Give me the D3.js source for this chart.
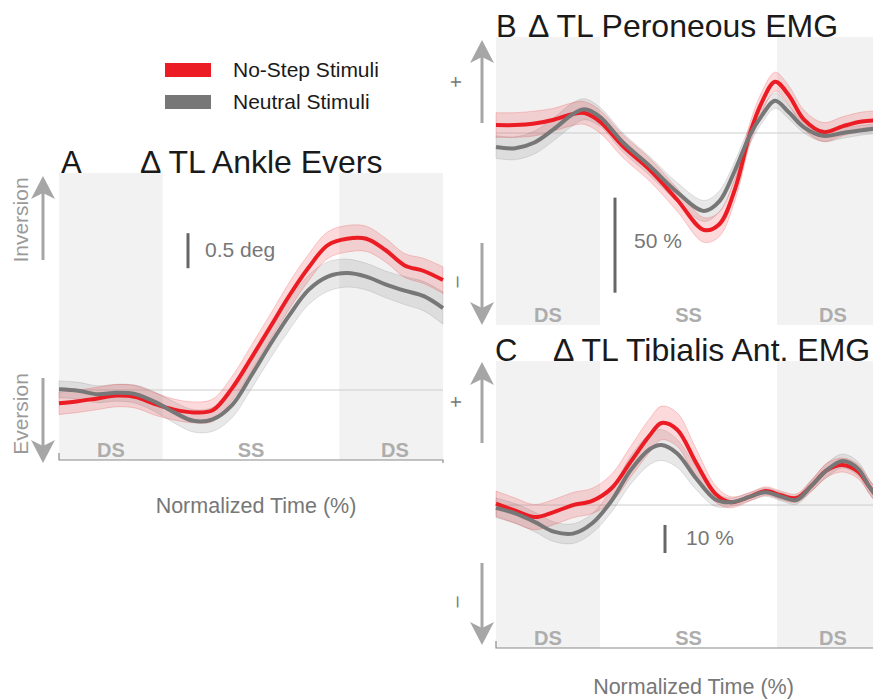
<!DOCTYPE html>
<html>
<head>
<meta charset="utf-8">
<script src="https://cdn.jsdelivr.net/npm/d3@7"></script>
<style>
  body { margin: 0; background: #fff; }
  text { font-family: "Liberation Sans", Arial, sans-serif; }
</style>
</head>
<body>
<div id="fig"></div>
<script>
// ---- data ----
// A: ankle eversion, degrees
const timeA = [0, 5, 10, 15, 20, 25, 30, 35, 40, 45, 50, 55, 60, 65, 70, 75, 80, 85, 90, 95, 100];
const noStepA = [-0.19, -0.16, -0.12, -0.08, -0.10, -0.20, -0.28, -0.32, -0.29, 0.02, 0.45, 0.90, 1.35, 1.75, 2.07, 2.16, 2.16, 2.00, 1.78, 1.70, 1.57];
const noStepSeA = [0.16, 0.16, 0.16, 0.16, 0.16, 0.16, 0.15, 0.15, 0.16, 0.17, 0.18, 0.18, 0.19, 0.19, 0.19, 0.19, 0.18, 0.17, 0.17, 0.18, 0.19];
const neutralA = [0.01, -0.01, -0.06, -0.04, -0.06, -0.17, -0.32, -0.44, -0.42, -0.22, 0.20, 0.65, 1.07, 1.43, 1.62, 1.67, 1.62, 1.51, 1.42, 1.34, 1.17];
const neutralSeA = [0.12, 0.12, 0.12, 0.12, 0.13, 0.14, 0.15, 0.16, 0.17, 0.18, 0.19, 0.2, 0.21, 0.21, 0.21, 0.2, 0.19, 0.19, 0.2, 0.21, 0.23];

// B: peroneous EMG, %
const timeB = [0, 5, 10, 15, 20, 23, 27, 33, 40, 47, 54, 58, 62, 66, 69, 72.5, 76, 80, 85, 90, 95, 100];
const noStepB = [4.2, 4.2, 5, 7, 10, 10.5, 6, -7, -19.5, -35, -51, -48, -30, 0, 16, 27, 20, 7, 0.5, 3.5, 6, 6.8];
const noStepSeB = [6.5, 6.5, 6.5, 6, 6, 6, 6, 6, 6, 6, 6.5, 6.5, 6, 5.5, 5.5, 5, 5, 5, 5, 5, 5, 5];
const neutralB = [-7.4, -8, -5, 2, 10, 12.5, 8.5, -5, -17.5, -31, -41, -36, -20, -1, 9, 17, 11, 3, -1.5, 0, 1.5, 2.6];
const neutralSeB = [6, 6, 6, 6, 6, 5.5, 5, 5, 5, 5, 5.5, 5.5, 5, 4.5, 4, 4, 3.5, 3, 3, 2.8, 2.6, 2.6];

// C: tibialis anterior EMG, %
const timeC = [0, 5, 10, 15, 20, 25, 30, 35, 40, 43, 47, 52, 57, 61, 66, 70, 74, 78, 82, 86, 90, 94, 97, 100];
const noStepC = [0.5, -2, -4.3, -2.5, 0, 1.5, 6, 15.5, 25, 29.3, 27, 15, 4, 1, 3, 5, 3.5, 2.5, 7, 12.5, 14.3, 12, 6.5, 1];
const noStepSeC = [4.5, 4.5, 4.5, 4.5, 4.5, 4.5, 5, 5.5, 6, 6, 6, 5, 3, 2, 1.5, 1.5, 1.5, 1.5, 2, 2.5, 2.5, 2.5, 2.5, 2.5];
const neutralC = [-1, -3, -6, -9.5, -10.2, -6.5, 1.5, 12.5, 20, 21.4, 18.5, 9.5, 2, 1, 3, 4.6, 3, 1.8, 7, 12.5, 15.7, 13, 6.5, 1];
const neutralSeC = [3.5, 3.5, 3.5, 3.5, 3.5, 3.5, 4, 5, 5.5, 5.5, 5, 4, 2.5, 1.5, 1.5, 1.5, 1.5, 1.5, 2, 2.5, 2.5, 2.5, 2.5, 2.5];

// gait phases (% of normalized time)
const dsPhases = [[0, 27], [73, 100]];
const phaseLabels = [["DS", 13.5], ["SS", 50], ["DS", 87.5]];

const seriesNames = ["No-Step Stimuli", "Neutral Stimuli"];
const red = "#ec1c24";
const grey = "#777777";

const svg = d3.select("#fig").append("svg")
    .attr("width", 873)
    .attr("height", 700);

svg.append("rect").attr("width", 873).attr("height", 700).attr("fill", "#fff");

// legend
const legend = svg.append("g").attr("transform", "translate(165,63)");
seriesNames.forEach(function (name, i) {
    legend.append("rect")
        .attr("x", 0).attr("y", i * 32)
        .attr("width", 46).attr("height", 14)
        .attr("fill", i === 0 ? red : grey);
    legend.append("text")
        .attr("x", 68).attr("y", i * 32 + 14)
        .attr("font-size", 21)
        .attr("fill", "#1a1a1a")
        .text(name);
});

function arrow(g, xPos, yFrom, yTip) {
    const dir = yTip < yFrom ? -1 : 1;
    g.append("line")
        .attr("x1", xPos).attr("x2", xPos)
        .attr("y1", yFrom).attr("y2", yTip - dir * 14)
        .attr("stroke", "#a6a6a6").attr("stroke-width", 3);
    g.append("path")
        .attr("d", "M0,0 L-12," + (-dir * 23) + " L0," + (-dir * 17) + " L12," + (-dir * 23) + "Z")
        .attr("transform", "translate(" + xPos + "," + yTip + ")")
        .attr("fill", "#a6a6a6");
}

function drawPanel(p) {
    const x = d3.scaleLinear().domain([0, 100]).range([p.left, p.left + p.width]);
    const y = d3.scaleLinear().domain(p.yDomain).range([p.top + p.height, p.top]);
    const g = svg.append("g");

    g.selectAll(".ds").data(dsPhases).join("rect")
        .attr("x", d => x(d[0]))
        .attr("width", d => x(d[1]) - x(d[0]))
        .attr("y", p.top)
        .attr("height", p.height)
        .attr("fill", "#f2f2f2");

    g.append("line")
        .attr("x1", x(0)).attr("x2", x(100))
        .attr("y1", y(0)).attr("y2", y(0))
        .attr("stroke", "#cccccc").attr("stroke-width", 1);

    const series = [
        {mean: p.neutral, se: p.neutralSe, color: grey, fillOp: 0.17},
        {mean: p.noStep, se: p.noStepSe, color: red, fillOp: 0.17}
    ];

    const curve = d3.curveCatmullRom.alpha(0.5);

    series.forEach(function (s) {
        const pts = p.time.map((t, i) => ({t: t, m: s.mean[i], e: s.se[i]}));
        const area = d3.area().curve(curve)
            .x(d => x(d.t))
            .y0(d => y(d.m - d.e))
            .y1(d => y(d.m + d.e));
        g.append("path")
            .attr("d", area(pts))
            .attr("fill", s.color).attr("fill-opacity", s.fillOp)
            .attr("stroke", s.color).attr("stroke-opacity", 0.25).attr("stroke-width", 0.8);
    });

    [series[1], series[0]].forEach(function (s) {
        const pts = p.time.map((t, i) => ({t: t, m: s.mean[i]}));
        const line = d3.line().curve(curve).x(d => x(d.t)).y(d => y(d.m));
        g.append("path")
            .attr("d", line(pts))
            .attr("fill", "none")
            .attr("stroke", s.color)
            .attr("stroke-width", 4);
    });

    g.selectAll(".phase").data(phaseLabels).join("text")
        .attr("x", d => x(d[1]))
        .attr("y", p.top + p.height - 3)
        .attr("text-anchor", "middle")
        .attr("font-size", 20)
        .attr("font-weight", "bold")
        .attr("fill", "#adadad")
        .text(d => d[0]);

    // scale bar
    g.append("line")
        .attr("x1", p.bar.x).attr("x2", p.bar.x)
        .attr("y1", y(p.bar.base)).attr("y2", y(p.bar.base + p.bar.size))
        .attr("stroke", "#666").attr("stroke-width", 3);
    g.append("text")
        .attr("x", p.bar.x + p.bar.dx)
        .attr("y", y(p.bar.base + p.bar.size) + p.bar.dy)
        .attr("font-size", 21)
        .attr("fill", "#777")
        .text(p.bar.label);

    if (p.axis) {
        const yb = p.top + p.height;
        g.append("path")
            .attr("d", "M" + x(0) + "," + (yb - 7) + "V" + yb + "H" + x(100) + "V" + (yb + 3))
            .attr("fill", "none").attr("stroke", "#8a8a8a").attr("stroke-width", 1.2);
        g.append("text")
            .attr("x", x(50) + 5)
            .attr("y", yb + p.axisLabelDy)
            .attr("text-anchor", "middle")
            .attr("font-size", 21.5)
            .attr("fill", "#777")
            .text("Normalized Time (%)");
    }

    // direction arrows
    arrow(g, p.arrowX, p.top + p.arrowUp[1], p.top + p.arrowUp[0]);
    arrow(g, p.arrowX, p.top + p.arrowDown[0], p.top + p.arrowDown[1]);
    p.dirLabels.forEach(function (d) {
        g.append("text")
            .attr("transform", "translate(" + d.x + "," + (p.top + d.y) + ") rotate(-90)")
            .attr("text-anchor", "middle")
            .attr("font-size", d.size)
            .attr("fill", d.color)
            .text(d.text);
    });

    // title
    g.append("text")
        .attr("x", p.letterX).attr("y", p.top)
        .attr("font-size", 31).attr("fill", "#1a1a1a")
        .text(p.letter);
    g.append("text")
        .attr("x", p.titleX).attr("y", p.top)
        .attr("font-size", 32).attr("fill", "#1a1a1a")
        .text(p.title);
}

drawPanel({
    letter: "A", title: "\u0394 TL Ankle Evers", letterX: 61, titleX: 140,
    left: 59, top: 173, width: 384, height: 287,
    yDomain: [-1, 3.1],
    time: timeA, noStep: noStepA, noStepSe: noStepSeA, neutral: neutralA, neutralSe: neutralSeA,
    bar: {x: 188, base: 1.74, size: 0.5, label: "0.5 deg", dx: 17, dy: 24},
    axis: true, axisLabelDy: 53,
    arrowX: 43, arrowUp: [3, 87], arrowDown: [205, 290],
    dirLabels: [
        {text: "Inversion", x: 28, y: 47, size: 21, color: "#9a9a9a"},
        {text: "Eversion", x: 28, y: 241, size: 21, color: "#9a9a9a"}
    ]
});

drawPanel({
    letter: "B", title: "\u0394 TL Peroneous EMG", letterX: 496, titleX: 528,
    left: 496, top: 37, width: 385, height: 288,
    yDomain: [-101, 50.5],
    time: timeB, noStep: noStepB, noStepSe: noStepSeB, neutral: neutralB, neutralSe: neutralSeB,
    bar: {x: 615, base: -84, size: 50, label: "50 %", dx: 19, dy: 50},
    axis: false,
    arrowX: 482, arrowUp: [3, 86], arrowDown: [206, 288],
    dirLabels: [
        {text: "+", x: 463, y: 45, size: 20, color: "#777"},
        {text: "\u2013", x: 463, y: 245, size: 20, color: "#777"}
    ]
});

drawPanel({
    letter: "C", title: "\u0394 TL Tibialis Ant. EMG", letterX: 495, titleX: 553,
    left: 496, top: 361, width: 385, height: 287,
    yDomain: [-51, 51.4],
    time: timeC, noStep: noStepC, noStepSe: noStepSeC, neutral: neutralC, neutralSe: neutralSeC,
    bar: {x: 665, base: -17.1, size: 10, label: "10 %", dx: 21, dy: 20},
    axis: true, axisLabelDy: 46,
    arrowX: 482, arrowUp: [1, 82], arrowDown: [202, 284],
    dirLabels: [
        {text: "+", x: 463, y: 41, size: 20, color: "#777"},
        {text: "\u2013", x: 463, y: 241, size: 20, color: "#777"}
    ]
});
</script>
</body>
</html>
